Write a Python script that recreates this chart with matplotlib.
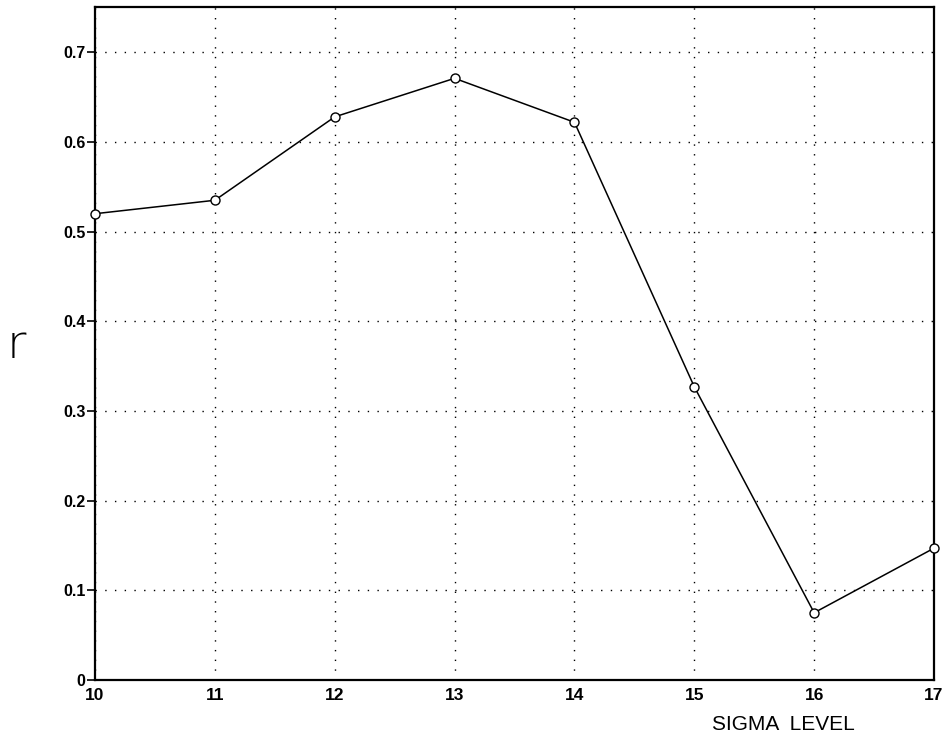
import matplotlib.pyplot as plt

# correlation r at each sigma level
sigma = [10, 11, 12, 13, 14, 15, 16, 17]
r_vals = [0.520, 0.535, 0.628, 0.671, 0.622, 0.327, 0.075, 0.147]

x_ticks = [10, 11, 12, 13, 14, 15, 16, 17]
y_ticks = [0, 0.1, 0.2, 0.3, 0.4, 0.5, 0.6, 0.7]
y_labels = ['0', '0.1', '0.2', '0.3', '0.4', '0.5', '0.6', '0.7']

plt.rcParams['font.family'] = ['Liberation Sans', 'DejaVu Sans']

fig = plt.figure(figsize=(9.52, 7.33), dpi=100)
ax = fig.add_axes([0.0998, 0.0723, 0.8813, 0.9175])

ax.plot(sigma, r_vals, color='black', lw=1.1, marker='o', ms=6.5,
        mfc='white', mec='black', mew=1.0, clip_on=False, zorder=3)

ax.set_xlim(10, 17)
ax.set_ylim(0, 0.75)
ax.set_xticks(x_ticks)
ax.set_yticks(y_ticks)
ax.set_yticklabels(y_labels)

# dotted grid
ax.grid(True, color='black', lw=1.0, linestyle=(0, (1, 6)))

for s in ax.spines.values():
    s.set_linewidth(1.6)

ax.tick_params(axis='y', direction='out', length=6, width=1.2, pad=1, labelsize=11.5)
ax.tick_params(axis='x', length=0, pad=6, labelsize=12.5)
for lab in ax.get_xticklabels() + ax.get_yticklabels():
    lab.set_fontweight('bold')

fig.text(0.017, 0.529, 'r', fontsize=34, family='DejaVu Sans',
         fontweight='light', ha='center', va='center')
fig.text(0.823, 0.004, 'SIGMA  LEVEL', fontsize=15, ha='center', va='baseline')

fig.savefig('out.png', dpi=100)
